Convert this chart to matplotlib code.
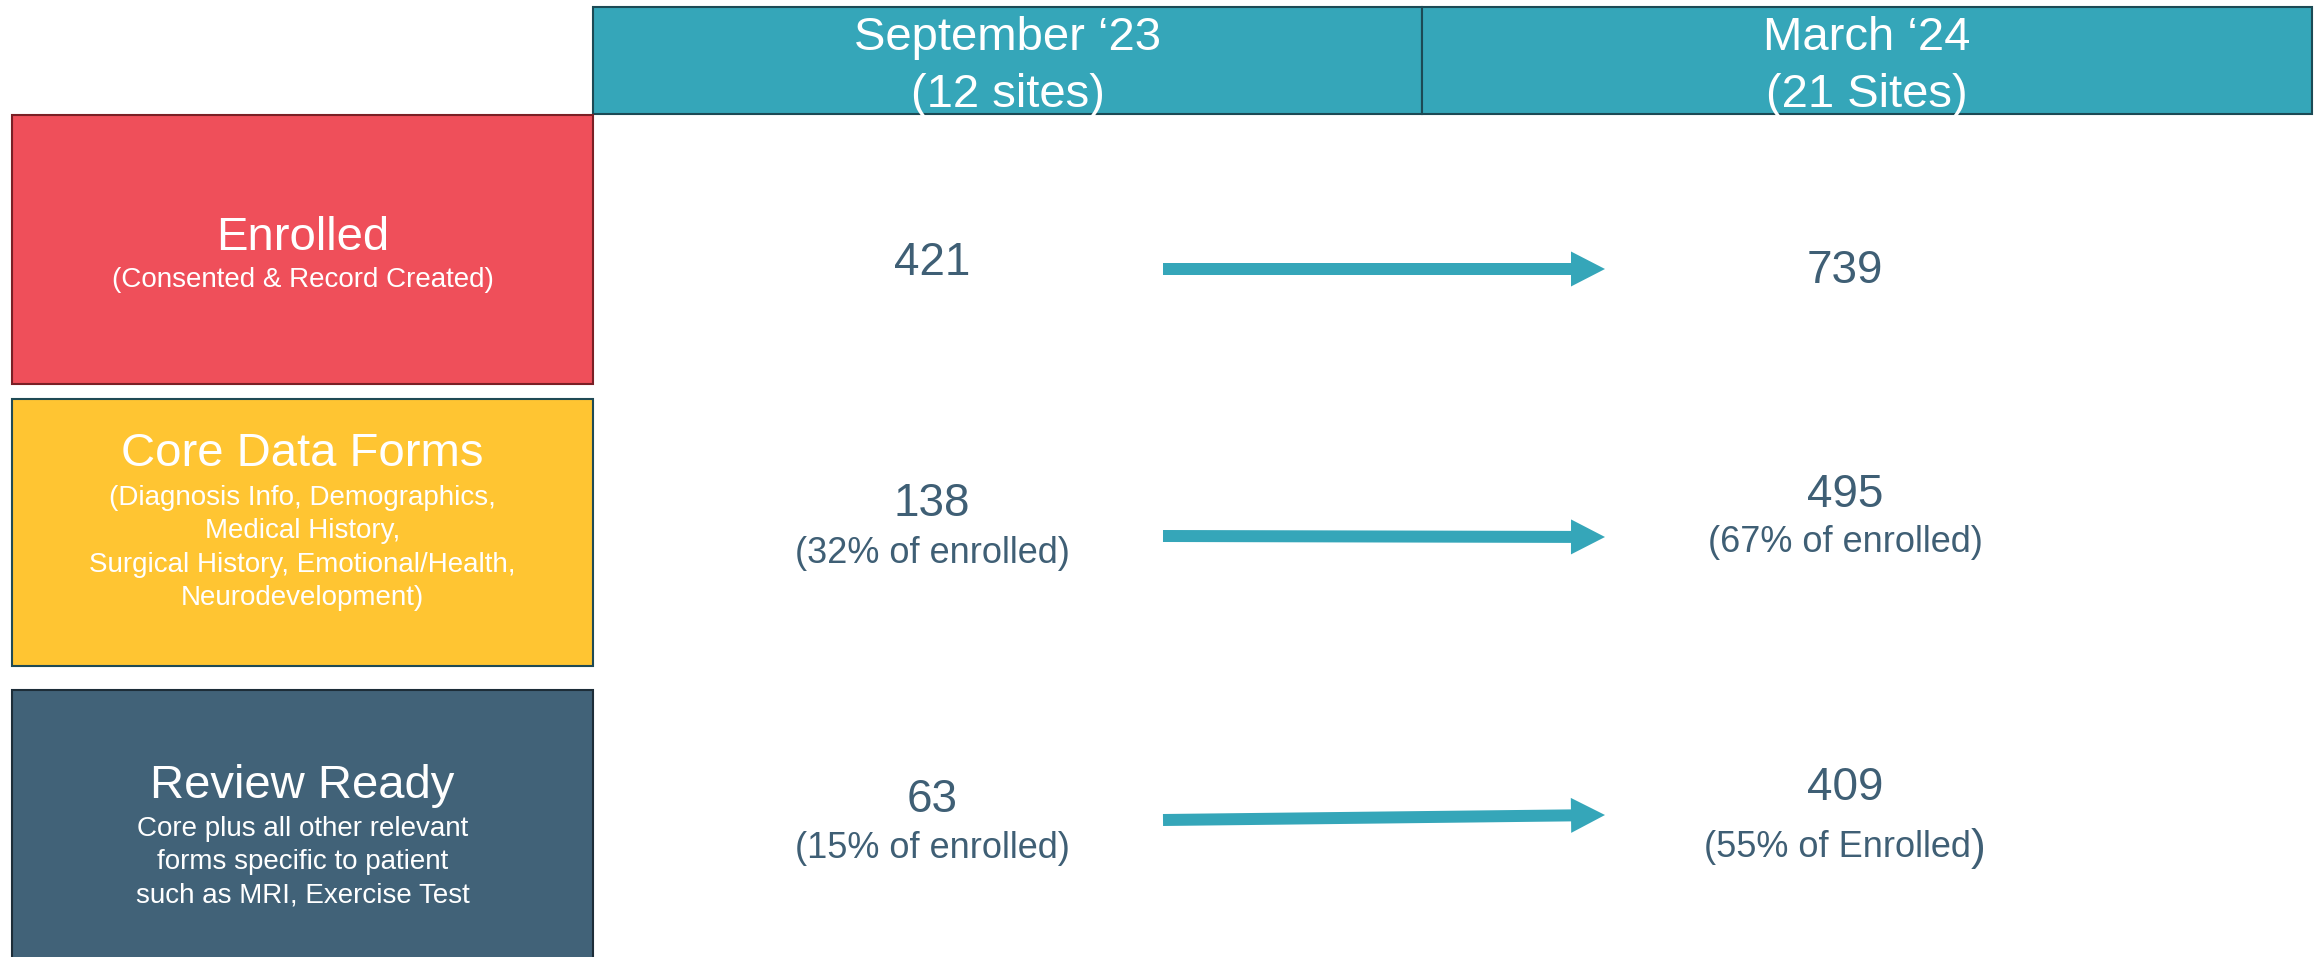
import matplotlib
matplotlib.use("Agg")
import matplotlib.pyplot as plt
from matplotlib.patches import Rectangle, FancyArrow

plt.rcParams['font.family'] = ['Liberation Sans', 'DejaVu Sans']

# data
periods = ["September \u201823", "March \u201824"]
period_sites = ["(12 sites)", "(21 Sites)"]
stages = ["Enrolled", "Core Data Forms", "Review Ready"]
stage_notes = [
    ["(Consented & Record Created)"],
    ["(Diagnosis Info, Demographics,", "Medical History,",
     "Surgical History, Emotional/Health,", "Neurodevelopment)"],
    ["Core plus all other relevant", "forms specific to patient",
     "such as MRI, Exercise Test"],
]
sep_counts = [421, 138, 63]
mar_counts = [739, 495, 409]
sep_pct = [None, 32, 15]
mar_pct = [None, 67, 55]
mar_pct_word = [None, "enrolled", "Enrolled"]

# colours
stage_colors = ["#EF4F5A", "#FFC532", "#416278"]
stage_edges = ["#7A1F25", "#1F4A55", "#1D2D38"]
teal = "#35A6B9"
num_color = "#3F5F75"

# layout (pixel units)
W, H = 2315, 957
box_x0, box_x1 = 12, 593
row_top = [115, 399, 690]
row_bot = [384, 666, 962]
head_x = [(593, 1422), (1422, 2312)]
head_y = (7, 114)
title_base = [250, 466, 798]
note_base = [[287], [505, 538, 572, 605], [836, 869, 902]]
col_x = [932, 1845]
num_base = [[275, 516, 812], [283, 507, 800]]
pct_base = [[None, 563, 858], [None, 552, 857]]
arrow_x = (1163, 1605)
arrow_y = [(269, 269), (536, 537), (820, 815)]

fig = plt.figure(figsize=(W / 100, H / 100), dpi=100)
ax = fig.add_axes([0, 0, 1, 1])
ax.set_xlim(0, W)
ax.set_ylim(H, 0)
ax.axis('off')

# header boxes
for i in range(2):
    x0, x1 = head_x[i]
    ax.add_patch(Rectangle((x0, head_y[0]), x1 - x0, head_y[1] - head_y[0],
                           facecolor=teal, edgecolor="#1C4A55", lw=1.5))
    cx = (x0 + x1) / 2
    ax.text(cx, 50, periods[i], ha='center', va='baseline', color='white', fontsize=34)
    ax.text(cx, 107, period_sites[i], ha='center', va='baseline', color='white', fontsize=34)

# stage boxes
bx = (box_x0 + box_x1) / 2
for r in range(3):
    ax.add_patch(Rectangle((box_x0, row_top[r]), box_x1 - box_x0, row_bot[r] - row_top[r],
                           facecolor=stage_colors[r], edgecolor=stage_edges[r], lw=1.5))
    ax.text(bx, title_base[r], stages[r], ha='center', va='baseline', color='white', fontsize=34)
    for line, yb in zip(stage_notes[r], note_base[r]):
        ax.text(bx, yb, line, ha='center', va='baseline', color='white', fontsize=20)

# numbers
renderer = fig.canvas.get_renderer()
for r in range(3):
    ax.text(col_x[0], num_base[0][r], str(sep_counts[r]), ha='center', va='baseline',
            color=num_color, fontsize=33)
    ax.text(col_x[1], num_base[1][r], str(mar_counts[r]), ha='center', va='baseline',
            color=num_color, fontsize=33)
    if sep_pct[r] is not None:
        ax.text(col_x[0], pct_base[0][r], f"({sep_pct[r]}% of enrolled)", ha='center',
                va='baseline', color=num_color, fontsize=26)
    if mar_pct[r] is not None:
        if mar_pct_word[r] == "Enrolled":
            # closing bracket is set larger in the original
            t1 = ax.text(0, pct_base[1][r], f"({mar_pct[r]}% of {mar_pct_word[r]}",
                         ha='left', va='baseline', color=num_color, fontsize=26)
            t2 = ax.text(0, pct_base[1][r] + 3, ")", ha='left', va='baseline',
                         color=num_color, fontsize=32)
            w1 = t1.get_window_extent(renderer).width
            w2 = t2.get_window_extent(renderer).width
            x0 = col_x[1] - (w1 + w2) / 2
            t1.set_x(x0)
            t2.set_x(x0 + w1)
        else:
            ax.text(col_x[1], pct_base[1][r], f"({mar_pct[r]}% of {mar_pct_word[r]})",
                    ha='center', va='baseline', color=num_color, fontsize=26)

# arrows
for (y0, y1) in arrow_y:
    ax.add_patch(FancyArrow(arrow_x[0], y0, arrow_x[1] - arrow_x[0], y1 - y0,
                            width=12, head_width=35, head_length=34,
                            length_includes_head=True, color=teal, lw=0))

fig.savefig("out.png", dpi=100)
